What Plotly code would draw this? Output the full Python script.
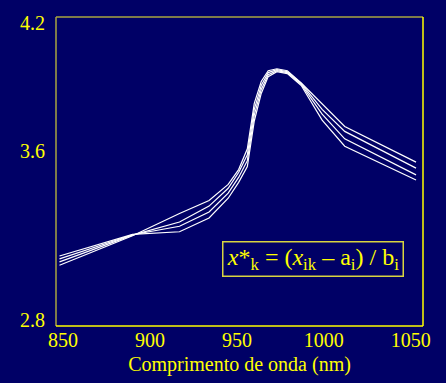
import plotly.graph_objects as go

# Wavelengths (nm) shared by all spectra
wavelength = [848, 890, 917, 934, 945, 951, 956, 960, 964, 968, 973, 979, 987, 999, 1012, 1053]

# Corrected spectra x*_k
spec_1 = [3.060, 3.199, 3.304, 3.365, 3.441, 3.511, 3.609, 3.823, 3.926, 3.977, 3.986, 3.977, 3.919, 3.819, 3.714, 3.546]
spec_2 = [3.076, 3.202, 3.264, 3.339, 3.423, 3.497, 3.581, 3.795, 3.907, 3.968, 3.982, 3.972, 3.917, 3.795, 3.691, 3.518]
spec_3 = [3.090, 3.204, 3.244, 3.311, 3.400, 3.474, 3.553, 3.768, 3.889, 3.958, 3.977, 3.968, 3.912, 3.772, 3.656, 3.486]
spec_4 = [3.104, 3.206, 3.218, 3.283, 3.376, 3.451, 3.525, 3.740, 3.870, 3.949, 3.972, 3.963, 3.907, 3.744, 3.621, 3.462]

x_ticks = [850, 900, 950, 1000, 1050]
y_ticks = [2.8, 3.6, 4.2]

BG = "#000066"
YELLOW = "#ffff00"
FRAME_DIM = "#a8a440"
SERIF = "Liberation Serif, Times New Roman, serif"

fig = go.Figure()
for spec in (spec_1, spec_2, spec_3, spec_4):
    fig.add_trace(go.Scatter(
        x=wavelength, y=spec, mode="lines",
        line=dict(color="#ffffff", width=1.2),
        showlegend=False, hoverinfo="skip",
    ))

fig.update_layout(
    width=446, height=383,
    margin=dict(l=56, r=23, t=17, b=54),
    paper_bgcolor=BG, plot_bgcolor=BG,
    font=dict(family=SERIF, color=YELLOW, size=20),
)

fig.update_xaxes(
    range=[846, 1057], tickvals=x_ticks, ticktext=[str(v) for v in x_ticks],
    showgrid=False, zeroline=False, showline=False, ticks="",
    tickfont=dict(family=SERIF, size=20, color=YELLOW),
    title=dict(text="Comprimento de onda (nm)", font=dict(family=SERIF, size=20, color=YELLOW), standoff=6),
)
fig.update_yaxes(
    range=[2.774, 4.230], tickvals=y_ticks, ticktext=[f"{v:.1f}" for v in y_ticks],
    showgrid=False, zeroline=False, showline=False, ticks="",
    tickfont=dict(family=SERIF, size=20, color=YELLOW),
    ticklabelstandoff=10,
)

# Plot frame
frame = [
    (0, 0, 0, 1, FRAME_DIM),   # left
    (0, 1, 1, 1, FRAME_DIM),   # top
    (1, 0, 1, 1, YELLOW),      # right
    (0, 0, 1, 0, YELLOW),      # bottom
]
for x0, y0, x1, y1, c in frame:
    fig.add_shape(type="line", xref="paper", yref="paper",
                  x0=x0, y0=y0, x1=x1, y1=y1, line=dict(color=c, width=1.5))

fig.add_annotation(
    xref="paper", yref="paper", x=0.6996, y=0.2163,
    xanchor="center", yanchor="middle", showarrow=False,
    text="<i>x</i>*<sub>k</sub> = (<i>x</i><sub>ik</sub> \u2013 a<sub>i</sub>) / b<sub>i</sub>",
    font=dict(family=SERIF, size=24, color=YELLOW),
    bordercolor="#d8d440", borderwidth=1.5, borderpad=1,
    width=177, height=31, align="center",
)

fig.write_html("out.html")
